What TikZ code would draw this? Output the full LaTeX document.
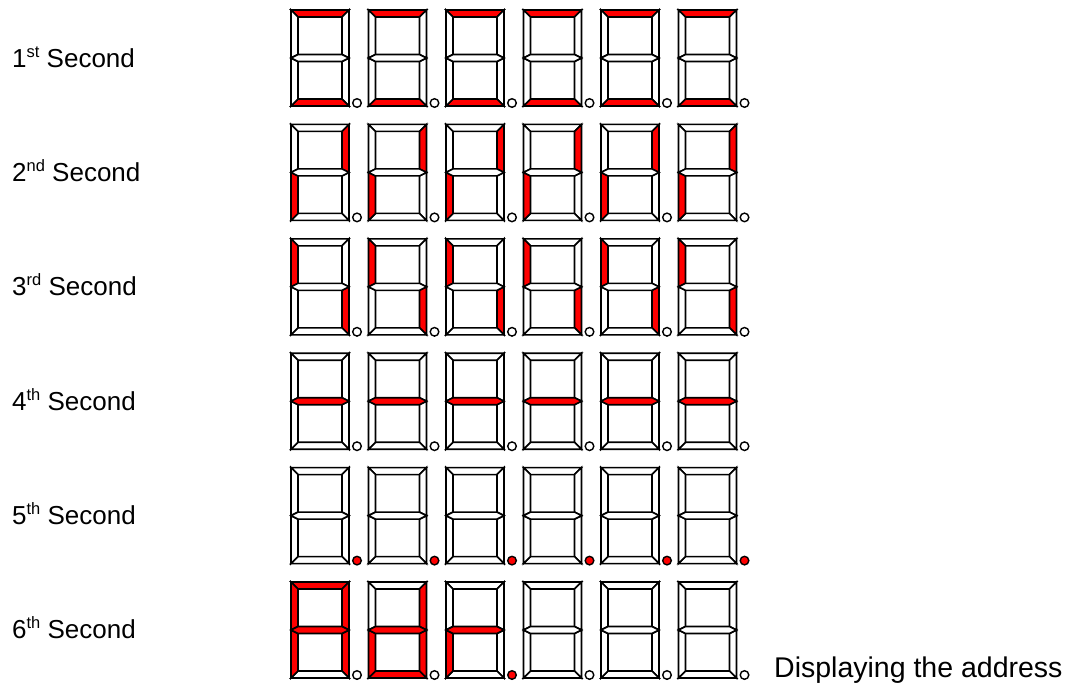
\documentclass[tikz,border=0pt]{standalone}
\usepackage{fontspec}
\setmainfont{Liberation Sans}
\usepackage{xcolor}
\usepackage{tikz}
\definecolor{SegRed}{HTML}{FF0000}
\definecolor{SegOff}{HTML}{FFFFFF}
\definecolor{SegEdge}{HTML}{000000}
\newcommand\DigW{58}
\newcommand\DigH{96}
\newcommand\DigM{48}
\newcommand\SegT{7}
\newcommand\SegH{3.5}
\newcommand\DigX{291}
\newcommand\DigP{77.5}
\newcommand\RowY{10}
\newcommand\RowP{114.4}
\newcommand\ordsup[1]{\raisebox{0.36em}{\fontsize{16.5}{16.5}\selectfont #1}}
\tikzset{
  seg/.style={draw=SegEdge, line width=1.6pt, line join=miter, fill=SegOff},
  seg a/.style={}, seg b/.style={}, seg c/.style={}, seg d/.style={},
  seg e/.style={}, seg f/.style={}, seg g/.style={}, seg p/.style={},
  lit/.style={seg #1/.style={fill=SegRed}},
  sec label/.style={anchor=base west, inner sep=0pt,
    font=\fontsize{26}{30}\selectfont}
}
\newcommand\sevenseg[3]{%
  \begin{scope}[shift={({\DigX+\DigP*#1},{\RowY+\RowP*#2})},#3]
    \path[seg,seg a] (0,0) -- (\DigW,0) -- (\DigW-\SegT,\SegT) -- (\SegT,\SegT) -- cycle;
    \path[seg,seg b] (\DigW,0) -- (\DigW,\DigM) -- (\DigW-\SegT,\DigM-\SegH) -- (\DigW-\SegT,\SegT) -- cycle;
    \path[seg,seg c] (\DigW,\DigM) -- (\DigW,\DigH) -- (\DigW-\SegT,\DigH-\SegT) -- (\DigW-\SegT,\DigM+\SegH) -- cycle;
    \path[seg,seg d] (0,\DigH) -- (\DigW,\DigH) -- (\DigW-\SegT,\DigH-\SegT) -- (\SegT,\DigH-\SegT) -- cycle;
    \path[seg,seg e] (0,\DigM) -- (0,\DigH) -- (\SegT,\DigH-\SegT) -- (\SegT,\DigM+\SegH) -- cycle;
    \path[seg,seg f] (0,0) -- (0,\DigM) -- (\SegT,\DigM-\SegH) -- (\SegT,\SegT) -- cycle;
    \path[seg,seg g] (0,\DigM) -- (\SegT,\DigM-\SegH) -- (\DigW-\SegT,\DigM-\SegH) -- (\DigW,\DigM)
      -- (\DigW-\SegT,\DigM+\SegH) -- (\SegT,\DigM+\SegH) -- cycle;
    \path[seg,seg p,line width=1.4pt] (\DigW+8,\DigH-3) circle[radius=4.3];
  \end{scope}}

\begin{document}
\begin{tikzpicture}[x=1pt, y=-1pt]
  \useasboundingbox (0,0) rectangle (1074,686);

  \node[sec label] (sec1) at (12,67) {1\ordsup{st} Second};
  \node[sec label] (sec2) at (12,181) {2\ordsup{nd} Second};
  \node[sec label] (sec3) at (12,295) {3\ordsup{rd} Second};
  \node[sec label] (sec4) at (12,410) {4\ordsup{th} Second};
  \node[sec label] (sec5) at (12,524) {5\ordsup{th} Second};
  \node[sec label] (sec6) at (12,638) {6\ordsup{th} Second};

  \foreach \c in {0,...,5} {\sevenseg{\c}{0}{lit=a,lit=d}}
  \foreach \c in {0,...,5} {\sevenseg{\c}{1}{lit=b,lit=e}}
  \foreach \c in {0,...,5} {\sevenseg{\c}{2}{lit=f,lit=c}}
  \foreach \c in {0,...,5} {\sevenseg{\c}{3}{lit=g}}
  \foreach \c in {0,...,5} {\sevenseg{\c}{4}{lit=p}}

  \sevenseg{0}{5}{lit=a,lit=b,lit=c,lit=e,lit=f,lit=g}
  \sevenseg{1}{5}{lit=b,lit=c,lit=d,lit=e,lit=g}
  \sevenseg{2}{5}{lit=e,lit=g,lit=p}
  \foreach \c in {3,4,5} {\sevenseg{\c}{5}{}}

  \node[sec label, font=\fontsize{28.5}{32}\selectfont] (addr) at (774,677)
    {Displaying the address};
\end{tikzpicture}
\end{document}
